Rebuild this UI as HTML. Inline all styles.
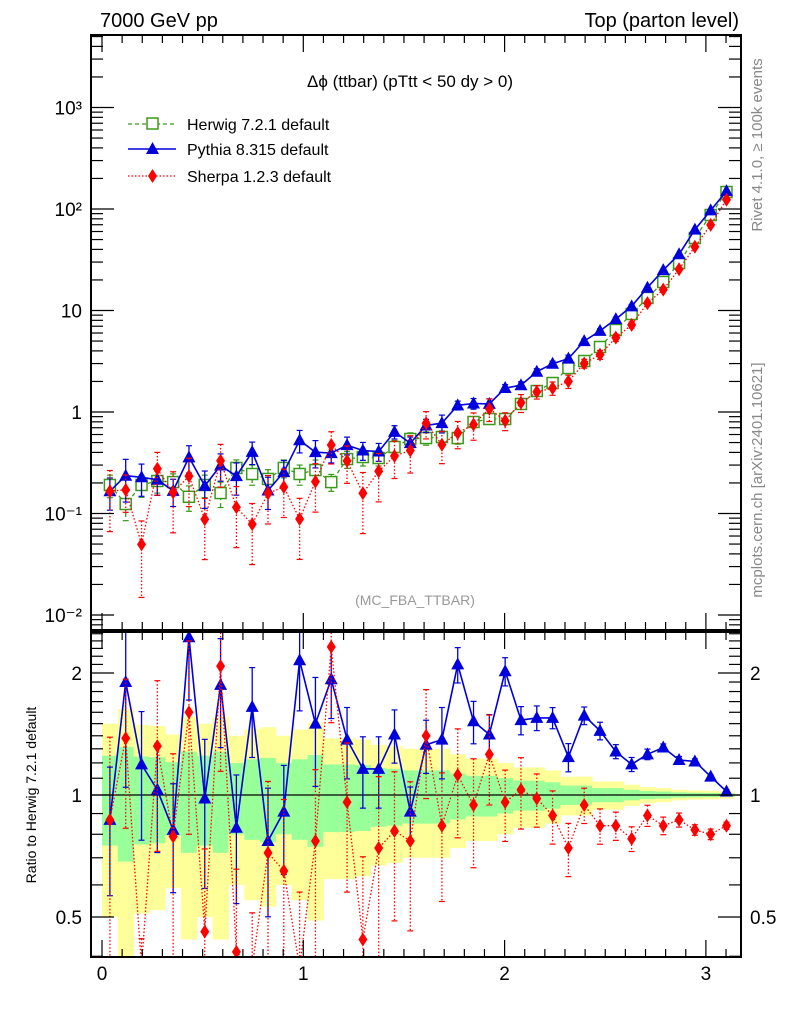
<!DOCTYPE html>
<html><head><meta charset="utf-8"><style>
html,body{margin:0;padding:0;background:#fff;width:786px;height:1024px;overflow:hidden}
svg{display:block;font-family:"Liberation Sans",sans-serif}
</style></head><body>
<svg id="c" width="786" height="1024" viewBox="0 0 786 1024" xmlns="http://www.w3.org/2000/svg">
<defs>
<clipPath id="cm"><rect x="91" y="35" width="650" height="595"/></clipPath>
<clipPath id="cr"><rect x="91" y="632" width="650" height="325"/></clipPath>
</defs>
<text x="100" y="27" font-size="20">7000 GeV pp</text>
<text x="739" y="27" font-size="20" text-anchor="end">Top (parton level)</text>
<text x="410" y="87" font-size="17" text-anchor="middle">Δϕ (ttbar) (pTtt &lt; 50 dy &gt; 0)</text>
<text x="415" y="605" font-size="14" fill="#999" text-anchor="middle">(MC_FBA_TTBAR)</text>
<text transform="translate(762,145) rotate(-90)" font-size="15" fill="#888" text-anchor="middle">Rivet 4.1.0, ≥ 100k events</text>
<text transform="translate(762,480) rotate(-90)" font-size="15" fill="#888" text-anchor="middle">mcplots.cern.ch [arXiv:2401.10621]</text>
<text transform="translate(36,795) rotate(-90)" font-size="14" text-anchor="middle">Ratio to Herwig 7.2.1 default</text>
<g id="g"></g>
<g>
 <g>
  <line x1="128" y1="124" x2="176" y2="124" stroke="#3a9a1a" stroke-width="1.3" stroke-dasharray="4,3"/>
  <rect x="147" y="118" width="11" height="11" fill="#fff" stroke="#3a9a1a" stroke-width="1.5"/>
  <text x="187" y="130" font-size="16">Herwig 7.2.1 default</text>
 </g>
 <g>
  <line x1="128" y1="149" x2="176" y2="149" stroke="#0000dd" stroke-width="1.5"/>
  <polygon points="152.5,142 159,154 146,154" fill="#0000dd"/>
  <text x="187" y="155" font-size="16">Pythia 8.315 default</text>
 </g>
 <g>
  <line x1="128" y1="176" x2="176" y2="176" stroke="#ff0000" stroke-width="1.3" stroke-dasharray="1.5,2"/>
  <polygon points="152.5,169 157,176 152.5,183 148,176" fill="#ff0000"/>
  <text x="187" y="182" font-size="16">Sherpa 1.2.3 default</text>
 </g>
</g>
</svg>
<script>
const nBins = 40;
const herwigVals = [0.191,0.124,0.191,0.209,0.204,0.146,0.191,0.159,0.281,0.245,0.219,0.281,0.245,0.268,0.204,0.344,0.360,0.352,0.452,0.542,0.554,0.567,0.554,0.797,0.853,0.853,1.20,1.61,1.93,2.71,3.18,4.37,6.43,9.24,13.3,19.1,29.4,51.8,87.3,147];
const herwigErr = [0.25,0.315,0.245,0.24,0.205,0.28,0.25,0.28,0.2,0.225,0.235,0.2,0.225,0.255,0.19,0.19,0.185,0.165,0.16,0.15,0.15,0.15,0.13,0.115,0.115,0.1,0.085,0.085,0.075,0.055,0.055,0.04,0.04,0.03,0.023,0.02,0.015,0.013,0.012,0.01];
const pythiaRatio = [0.868,1.90,1.19,1.03,0.82,2.45,0.98,1.87,0.83,1.65,0.77,0.91,2.15,1.50,1.93,1.37,1.16,1.16,1.41,0.91,1.33,1.37,2.10,1.52,1.41,2.02,1.53,1.55,1.55,1.24,1.57,1.44,1.28,1.19,1.26,1.31,1.22,1.21,1.11,1.02];
const pythiaErr = [0.35,0.45,0.35,0.3,0.3,0.3,0.4,0.3,0.35,0.25,0.35,0.3,0.25,0.3,0.2,0.2,0.2,0.2,0.15,0.15,0.15,0.2,0.1,0.12,0.12,0.08,0.08,0.07,0.06,0.08,0.05,0.05,0.04,0.04,0.03,0.02,0.02,0.015,0.01,0.01];
const sherpaRatio = [0.868,1.38,0.26,1.32,0.79,1.60,0.46,2.08,0.41,0.32,0.72,0.65,0.36,0.77,2.32,0.96,0.44,0.74,0.815,0.77,1.40,0.84,1.12,0.945,1.26,0.96,1.03,0.98,0.89,0.74,0.945,0.84,0.84,0.78,0.89,0.84,0.868,0.82,0.80,0.84];
const sherpaErr = [0.6,0.4,0.7,0.45,0.6,0.5,0.6,0.45,0.6,0.6,0.5,0.5,0.6,0.5,0.35,0.4,0.6,0.5,0.4,0.4,0.3,0.35,0.3,0.3,0.25,0.2,0.2,0.15,0.15,0.15,0.1,0.1,0.08,0.07,0.06,0.05,0.04,0.03,0.03,0.02];
const xTicks = [0,1,2,3];
const mainTicks = [-2,-1,0,1,2,3];
const mainTickLabels = ["10⁻²","10⁻¹","1","10","10²","10³"];
const ratioTicks = [0.5,1,2];
const ratioTickLabels = ["0.5","1","2"];

const NS="http://www.w3.org/2000/svg";
const G=document.getElementById('g');
const L=91,R=741,MT=35,MB=630,RT=632,RB=957;
const X=v=>102+201.3*v;
const YM=v=>412-101.5*Math.log10(v);
const YR=v=>795-122*Math.log2(v);
const bw=Math.PI/nBins;
function el(t,a,p){const e=document.createElementNS(NS,t);for(const k in a)e.setAttribute(k,a[k]);(p||G).appendChild(e);return e;}
const cl=(y,a,b)=>Math.min(Math.max(y,a),b);

const bandG=el('g',{'clip-path':'url(#cr)'});


for(let i=0;i<nBins;i++){
  const x0=X(i*bw),x1=X((i+1)*bw),e=herwigErr[i];
  const yt2=cl(YR(1+2*e),RT,RB),yb2=cl(YR(Math.max(1-2*e,0.01)),RT,RB);
  const y=el('rect',{x:x0,y:yt2,width:x1-x0+0.5,height:yb2-yt2,fill:'#ffff99'},bandG);
  
  
  const yt1=cl(YR(1+e),RT,RB),yb1=cl(YR(1-e),RT,RB);
  const g=el('rect',{x:x0,y:yt1,width:x1-x0+0.5,height:yb1-yt1,fill:'#99ff99'},bandG);
  
  
}
el('line',{x1:L,x2:R,y1:YR(1),y2:YR(1),stroke:'#000','stroke-width':1.3});

function series(panel,vals,errs,color,dash,marker,name){
  const clip=panel==='main'?'url(#cm)':'url(#cr)';
  const Y0=panel==='main'?YM:YR;
  const top=panel==='main'?MT:RT, bot=panel==='main'?MB:RB;
  const Y=v=>cl(Y0(v),top-10,bot+10);
  const grp=el('g',{'clip-path':clip});
  
  
  let d='';
  vals.forEach((v,i)=>{const x=X((i+0.5)*bw);d+=(i?'L':'M')+x.toFixed(1)+','+Y(v).toFixed(1);});
  const a={d:d,fill:'none',stroke:color,'stroke-width':marker==='tri'?1.6:1.3};
  if(dash)a['stroke-dasharray']=dash;
  el('path',a,grp);
  vals.forEach((v,i)=>{
    const x=X((i+0.5)*bw),y=Y(v),e=errs[i];
    const yt=Y(v*(1+e)),yb=Y(Math.max(v*(1-e),1e-6));
    const ea={x1:x,x2:x,y1:yt,y2:yb,stroke:color,'stroke-width':1.3};
    if(dash)ea['stroke-dasharray']=dash;
    el('line',ea,grp);
    el('line',{x1:x-3,x2:x+3,y1:yt,y2:yt,stroke:color,'stroke-width':1.2},grp);
    el('line',{x1:x-3,x2:x+3,y1:yb,y2:yb,stroke:color,'stroke-width':1.2},grp);
    let m;
    if(marker==='sq')m=el('rect',{x:x-5.5,y:y-5.5,width:11,height:11,fill:'#fff',stroke:color,'stroke-width':1.5},grp);
    else if(marker==='tri')m=el('polygon',{points:`${x},${y-7} ${x+6.5},${y+5} ${x-6.5},${y+5}`,fill:color},grp);
    else m=el('polygon',{points:`${x},${y-7} ${x+4.5},${y} ${x},${y+7} ${x-4.5},${y}`,fill:color},grp);
    
    
  });
}
const pythiaVals=herwigVals.map((v,i)=>v*pythiaRatio[i]);
const sherpaVals=herwigVals.map((v,i)=>v*sherpaRatio[i]);
series('main',herwigVals,herwigErr,'#3a9a1a','4,3','sq','herwig-series');
series('main',pythiaVals,pythiaErr,'#0000dd',null,'tri','pythia-series');
series('main',sherpaVals,sherpaErr,'#ff0000','1.5,2','dia','sherpa-series');
series('ratio',pythiaRatio,pythiaErr,'#0000dd',null,'tri','pythia-ratio-series');
series('ratio',sherpaRatio,sherpaErr,'#ff0000','1.5,2','dia','sherpa-ratio-series');

const f1=el('rect',{x:L,y:MT,width:R-L,height:MB-MT,fill:'none',stroke:'#000','stroke-width':2});


const f2=el('rect',{x:L,y:RT,width:R-L,height:RB-RT,fill:'none',stroke:'#000','stroke-width':2});



const tg=el('g',{stroke:'#000','stroke-width':1.2});


for(let k=0;k<=31;k++){
  const x=X(k/10),maj=k%10===0,len=maj?17:8;
  [[MT,1],[MB,-1],[RT,1],[RB,-1]].forEach(([y,s])=>el('line',{x1:x,x2:x,y1:y,y2:y+s*len},tg));
}
xTicks.forEach(v=>{
  const t=el('text',{x:X(v),y:980,'font-size':19,'text-anchor':'middle'});
  t.textContent=v;
  
  
});
for(let d=-3;d<=3;d++){
  for(let m=1;m<=9;m++){
    const v=m*Math.pow(10,d),y=YM(v);
    if(y<MT||y>MB)continue;
    const len=m===1?23:12;
    el('line',{x1:L,x2:L+len,y1:y,y2:y},tg);
    el('line',{x1:R,x2:R-len,y1:y,y2:y},tg);
  }
}
mainTicks.forEach((p,i)=>{
  const t=el('text',{x:82,y:YM(Math.pow(10,p))+7,'font-size':19,'text-anchor':'end'});
  t.textContent=mainTickLabels[i];
  
  
});
for(let k=4;k<=25;k++){
  const v=k/10,y=YR(v);
  if(y<RT||y>RB)continue;
  const len=(k===5||k===10||k===20)?23:12;
  el('line',{x1:L,x2:L+len,y1:y,y2:y},tg);
  el('line',{x1:R,x2:R-len,y1:y,y2:y},tg);
}
ratioTicks.forEach((v,i)=>{
  const t=el('text',{x:82,y:YR(v)+7,'font-size':19,'text-anchor':'end'});
  t.textContent=ratioTickLabels[i];
  
  
  const t2=el('text',{x:750,y:YR(v)+7,'font-size':19,'text-anchor':'start'});
  t2.textContent=ratioTickLabels[i];
  
  
});
</script>
</body></html>
